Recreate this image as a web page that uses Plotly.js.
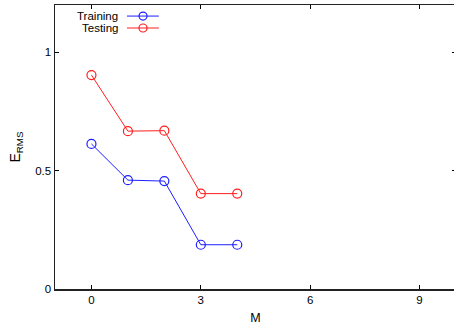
<!DOCTYPE html>
<html>
<head>
<meta charset="utf-8">
<script src="https://cdn.plot.ly/plotly-3.0.1.min.js"></script>
<style>
html,body{margin:0;padding:0;overflow:hidden;background:#fff;width:454px;height:325px;}
#chart{width:458px;height:325px;}
</style>
</head>
<body>
<div id="chart"></div>
<script>
const M = [0, 1, 2, 3, 4];
const trainingErms = [0.613, 0.460, 0.456, 0.187, 0.187];
const testingErms = [0.904, 0.667, 0.669, 0.403, 0.403];
const seriesNames = ['Training', 'Testing'];
const xTicks = [0, 3, 6, 9];
const yTicks = [0, 0.5, 1];

const blue = 'rgb(30,30,255)';
const red = 'rgb(255,30,30)';
const font = {family: 'Liberation Sans, Arial, sans-serif', size: 11.5, color: '#000'};

const traces = [
  {x: M, y: trainingErms, name: seriesNames[0], type: 'scatter', mode: 'lines+markers',
   line: {color: blue, width: 1},
   marker: {symbol: 'circle-open', size: 9, color: blue, line: {width: 1.2, color: blue}}},
  {x: M, y: testingErms, name: seriesNames[1], type: 'scatter', mode: 'lines+markers',
   line: {color: red, width: 1},
   marker: {symbol: 'circle-open', size: 9, color: red, line: {width: 1.2, color: red}}}
];

// legend (text left, sample right) built manually
const legY = [0.961, 0.919];
const legColors = [blue, red];
const shapes = [];
const annotations = [];
seriesNames.forEach((n, i) => {
  annotations.push({xref: 'paper', yref: 'paper', x: 0.161, y: legY[i], text: n, showarrow: false,
    xanchor: 'right', yanchor: 'middle', font: font});
  shapes.push({type: 'line', xref: 'paper', yref: 'paper', x0: 0.1796, x1: 0.259, y0: legY[i], y1: legY[i],
    line: {color: legColors[i], width: 1}});
  shapes.push({type: 'circle', xref: 'paper', yref: 'paper', xsizemode: 'pixel', ysizemode: 'pixel',
    xanchor: 0.2195, yanchor: legY[i], x0: -4, x1: 4, y0: -4, y1: 4,
    line: {color: legColors[i], width: 1.2}, fillcolor: 'rgba(0,0,0,0)'});
});

const layout = {
  width: 458, height: 325,
  margin: {l: 55, r: 2, t: 5, b: 36},
  paper_bgcolor: '#fff', plot_bgcolor: '#fff',
  showlegend: false,
  font: font,
  xaxis: {
    range: [-1, 10], tickvals: xTicks, ticktext: xTicks.map(String),
    ticks: 'inside', ticklen: 4, tickwidth: 1, tickcolor: '#000',
    showline: true, linecolor: '#222', linewidth: 1.5, mirror: 'ticks',
    showgrid: false, zeroline: false, tickfont: font,
    title: {text: 'M', font: {family: font.family, size: 12.5, color: '#000'}, standoff: 9}
  },
  yaxis: {
    range: [0, 1.2], tickvals: yTicks, ticktext: yTicks.map(String),
    ticks: 'inside', ticklen: 4, tickwidth: 1, tickcolor: '#000',
    showline: true, linecolor: '#222', linewidth: 1.5, mirror: 'ticks',
    showgrid: false, zeroline: false, tickfont: font,
    title: {text: 'E<sub>RMS</sub>', font: {family: font.family, size: 14, color: '#000'}, standoff: 11}
  },
  shapes: shapes,
  annotations: annotations
};

Plotly.newPlot('chart', traces, layout, {displayModeBar: false, staticPlot: true});
</script>
</body>
</html>
